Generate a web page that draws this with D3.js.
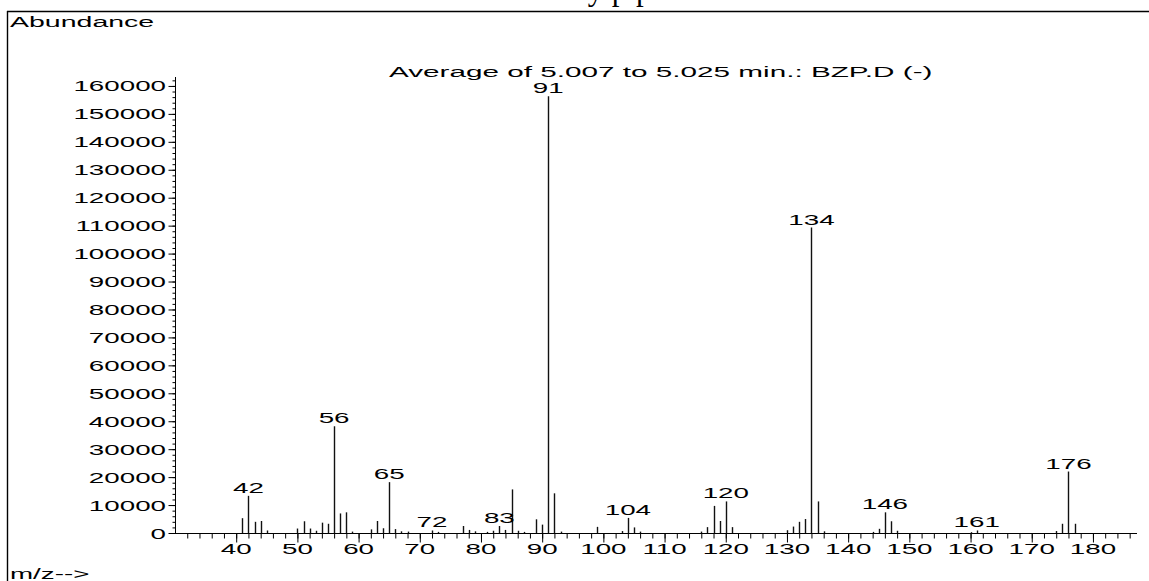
<!DOCTYPE html>
<html>
<head>
<meta charset="utf-8">
<script src="https://cdn.jsdelivr.net/npm/d3@7"></script>
<style>
  body { margin: 0; background: #fff; }
  svg { display: block; }
  text { font-family: "Liberation Sans", Arial, sans-serif; fill: #000; }
</style>
</head>
<body>
<svg id="chart" width="1149" height="581"></svg>
<script>
// m/z of every peak and its abundance
var mzValues = [41, 42, 43, 44, 45, 50, 51, 52, 53, 54, 55, 56, 57, 58, 59,
	62, 63, 64, 65, 66, 67, 68, 72, 73, 77, 78, 79, 81, 82, 83, 84, 85, 86, 87,
	89, 90, 91, 92, 93, 99, 103, 104, 105, 106, 116, 117, 118, 119, 120, 121,
	130, 131, 132, 133, 134, 135, 136, 144, 145, 146, 147, 148, 160, 161,
	174, 175, 176, 177];
var abundances = [5300, 13300, 4000, 4300, 900, 1600, 4200, 1600, 800, 3700, 3300, 38200, 7000, 7400, 500,
	1300, 4300, 1700, 18200, 1400, 600, 500, 900, 400, 2500, 1100, 600, 400, 800, 2500, 1100, 15600, 800, 400,
	4900, 3000, 156300, 14200, 500, 2200, 700, 5400, 2000, 500, 500, 2100, 9700, 4300, 11300, 2100,
	1000, 2300, 4000, 5000, 109300, 11300, 600, 400, 1500, 7400, 4200, 800, 300, 900,
	700, 3300, 22000, 3300];
var labelledPeaks = [42, 56, 65, 72, 83, 91, 104, 120, 134, 146, 161, 176];
var yTickValues = d3.range(0, 160001, 10000);
var xTickValues = d3.range(40, 181, 10);

var plotTitle = "Average of 5.007 to 5.025 min.: BZP.D (-)";
var pageTitle = "Benzylpiperazine";

var svg = d3.select("#chart");
var stretch = 1.85;   // the instrument font is wide

var x = d3.scaleLinear().domain([30, 187.2]).range([175, 1137]);
var y = d3.scaleLinear().domain([0, 163200]).range([533, 77]);

// wide text: drawn at (px,py) and stretched sideways
function wideText(px, py, str, anchor, size, sx){
	svg.append("g")
		.attr("transform", "translate(" + px + "," + py + ") scale(" + (sx || stretch) + ",1)")
		.append("text")
		.attr("text-anchor", anchor || "start")
		.style("font-size", (size || 15) + "px")
		.text(str);
}

// page title, cut off by the top of the frame
svg.append("clipPath").attr("id", "topclip")
	.append("rect").attr("x", 0).attr("y", 0).attr("width", 1149).attr("height", 10);
svg.append("text")
	.attr("clip-path", "url(#topclip)")
	.attr("x", 524).attr("y", -0.5)
	.style("font-family", "'Liberation Serif', 'Times New Roman', serif")
	.style("font-size", "31px")
	.text(pageTitle);

// frame
svg.append("line").attr("x1", 7).attr("x2", 1149).attr("y1", 11.5).attr("y2", 11.5)
	.attr("stroke", "#000").attr("stroke-width", 1.6);
svg.append("line").attr("x1", 7.5).attr("x2", 7.5).attr("y1", 11).attr("y2", 581)
	.attr("stroke", "#000").attr("stroke-width", 1.4);

wideText(10, 26.5, "Abundance", "start", 15, 1.9);
wideText(10, 579, "m/z-->", "start", 15);
wideText(389, 76.5, plotTitle, "start", 15, 1.98);

// y axis
var yAxis = d3.axisLeft(y)
	.tickValues(yTickValues)
	.tickSize(7)
	.tickFormat("");
var gy = svg.append("g").attr("transform", "translate(175.5,0)").call(yAxis);
gy.select(".domain").attr("d", "M0," + y(163200) + "V" + (y(0) + 0.5));
svg.append("g").attr("transform", "translate(175.5,0)")
	.call(d3.axisLeft(y).tickValues(d3.range(0, 163001, 2000)).tickSize(3).tickFormat(""))
	.select(".domain").remove();
yTickValues.forEach(function(v){
	wideText(166, y(v) + 5.5, String(v), "end", 15);
});

// x axis
var gx = svg.append("g").attr("transform", "translate(0,533.5)")
	.call(d3.axisBottom(x).tickValues(xTickValues).tickSize(9).tickFormat(""));
gx.select(".domain").attr("d", "M175,0H1137");
svg.append("g").attr("transform", "translate(0,533.5)")
	.call(d3.axisBottom(x).tickValues(d3.range(32, 187, 2)).tickSize(5).tickFormat(""))
	.select(".domain").remove();
xTickValues.forEach(function(v){
	wideText(x(v), 554, String(v), "middle", 15);
});
svg.selectAll(".tick line").attr("stroke", "#000");

// peaks
svg.append("g").selectAll("line")
	.data(mzValues)
	.enter()
	.append("line")
	.attr("x1", function(d){ return Math.round(x(d)) + 0.5; })
	.attr("x2", function(d){ return Math.round(x(d)) + 0.5; })
	.attr("y1", y(0))
	.attr("y2", function(d, i){ return y(abundances[i]); })
	.attr("stroke", "#111")
	.attr("stroke-width", 1.4);

labelledPeaks.forEach(function(m){
	var v = abundances[mzValues.indexOf(m)];
	wideText(x(m), y(v) - 3, String(m), "middle", 15);
});
</script>
</body>
</html>
